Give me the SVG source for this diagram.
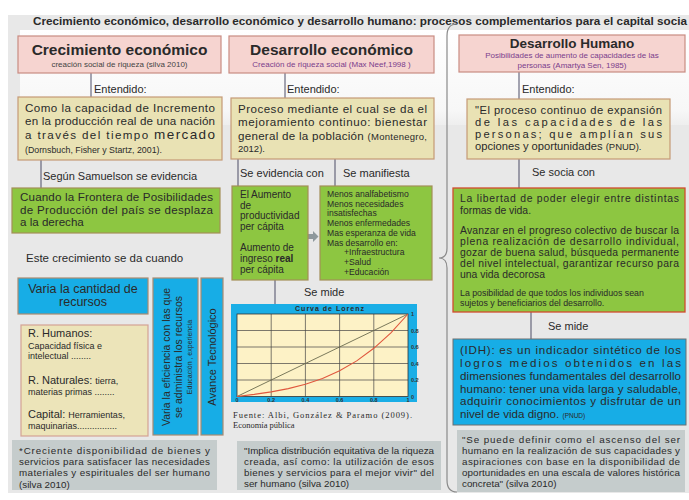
<svg xmlns="http://www.w3.org/2000/svg" width="689" height="500" viewBox="0 0 689 500">
<defs>
<linearGradient id="topg" x1="0" y1="0" x2="0" y2="1"><stop offset="0" stop-color="#ffffff"/><stop offset="0.85" stop-color="#f7f7f7"/><stop offset="1" stop-color="#eeeeee"/></linearGradient>
</defs>
<style>
text{font-family:"Liberation Sans",Arial,sans-serif;fill:#2a2a2a}
.pink{fill:#f6d4d0;stroke:#c98c82;stroke-width:1.2}
.tan{fill:#e9e2b4;stroke:#c59a76;stroke-width:1.2}
.green{fill:#8dc641;stroke:#a38f58;stroke-width:1.2}
.blue{fill:#17ade6;stroke:#a98a70;stroke-width:1.2}
.gray{fill:#c5cccc}
.conn{stroke:#4c4c66;stroke-width:1;fill:none}
.h{font-weight:bold;text-anchor:middle}
.sub{font-size:8px;text-anchor:middle;fill:#7a3d8c}
.lbl{font-size:11px}
.m{font-size:11.6px}
.g{font-size:9.8px}
.ax{font-size:5.5px;font-weight:bold;fill:#333}
.grid{stroke:#444;stroke-width:0.7}
</style>
<rect x="0" y="0" width="689" height="500" fill="#ffffff"/>
<rect x="8" y="15" width="681" height="478" fill="#e8e8e8"/>
<rect x="20" y="30" width="669" height="95" fill="url(#topg)"/>
<text x="33" y="24.5" font-size="11.7" font-weight="bold" fill="#1a1a1a" textLength="654" lengthAdjust="spacing">Crecimiento económico, desarrollo económico y desarrollo humano: procesos complementarios para el capital socia</text>

<g id="connectors">
<line class="conn" x1="91" y1="73" x2="91" y2="97"/>
<text class="lbl" x="94" y="93">Entendido:</text>
<line class="conn" x1="285" y1="73" x2="285" y2="98"/>
<text class="lbl" x="287" y="93">Entendido:</text>
<line class="conn" x1="519" y1="72" x2="519" y2="99"/>
<text class="lbl" x="522" y="93">Entendido:</text>
<line class="conn" x1="41" y1="160" x2="41" y2="188"/>
<text class="lbl" x="43" y="180">Según Samuelson se evidencia</text>
<line class="conn" x1="238" y1="159" x2="238" y2="186"/>
<text class="lbl" x="240" y="177">Se evidencia con</text>
<line class="conn" x1="335" y1="159" x2="335" y2="186"/>
<text class="lbl" x="343" y="177">Se manifiesta</text>
<line class="conn" x1="275" y1="280" x2="275" y2="304"/>
<text class="lbl" x="304" y="295.5">Se mide</text>
<line class="conn" x1="519" y1="159" x2="519" y2="188"/>
<text class="lbl" x="532" y="176">Se socia con</text>
<line class="conn" x1="531" y1="312" x2="531" y2="339"/>
<text class="lbl" x="548" y="330">Se mide</text>
<polygon points="308,234 313,234 313,231 318.5,236.5 313,242 313,239 308,239" fill="#8e989c"/>
<path d="M457,24 Q447,24 447,36 L447,248 Q447,258 439,258 Q447,258 447,268 L447,480 Q447,492 457,492" fill="none" stroke="#8a8a8a" stroke-width="1.2"/>
</g>

<text x="26" y="262" font-size="11.5">Este crecimiento se da cuando</text>

<g id="crecimiento-economico">
<rect class="pink" x="18" y="36" width="203" height="37"/>
<text class="h" x="119.5" y="55" font-size="15.5">Crecimiento económico</text>
<text class="sub" x="119.5" y="67" style="fill:#444">creación social de riqueza (silva 2010)</text>
</g>

<g id="entendido-crecimiento">
<rect class="tan" x="18" y="97" width="204" height="63"/>
<text class="m" x="25" y="112" textLength="190" lengthAdjust="spacing">Como la capacidad de Incremento</text>
<text class="m" x="25" y="125" textLength="190" lengthAdjust="spacing">en la producción real de una nación</text>
<text class="m" x="25" y="139" textLength="190" lengthAdjust="spacing">a través del tiempo <tspan font-size="13.5">mercado</tspan></text>
<text x="25" y="153" font-size="8.8">(Dornsbuch, Fisher y Startz, 2001).</text>
</g>

<g id="samuelson">
<rect class="green" x="12" y="188" width="208" height="45"/>
<text x="20" y="201" font-size="11.6" textLength="193" lengthAdjust="spacing">Cuando la Frontera de Posibilidades</text>
<text x="20" y="213.5" font-size="11.6" textLength="193" lengthAdjust="spacing">de Producción del país se desplaza</text>
<text x="20" y="226" font-size="11.6">a la derecha</text>
</g>

<g id="cantidad-recursos">
<rect class="blue" x="18" y="278" width="130" height="36"/>
<text x="83" y="293" font-size="12.5" text-anchor="middle">Varia la cantidad de</text>
<text x="83" y="306" font-size="12.5" text-anchor="middle">recursos</text>
</g>

<g id="tipos-recursos">
<rect x="21" y="325" width="127" height="111" fill="#ece4b9" stroke="#d4a294" stroke-width="1.2"/>
<text x="28" y="336.5" font-size="11">R. Humanos:</text>
<text x="28" y="348.5" font-size="9">Capacidad física e</text>
<text x="28" y="358.5" font-size="9">intelectual ........</text>
<text x="28" y="384" font-size="11">R. Naturales: <tspan font-size="9">tierra,</tspan></text>
<text x="28" y="395" font-size="9">materias primas ........</text>
<text x="28" y="417.5" font-size="11">Capital: <tspan font-size="9">Herramientas,</tspan></text>
<text x="28" y="429" font-size="9">maquinarias................</text>
</g>

<g id="eficiencia">
<rect class="blue" x="153" y="278" width="45" height="157"/>
<text transform="translate(170,357) rotate(-90)" text-anchor="middle" font-size="10.5">Varia la eficiencia con las que</text>
<text transform="translate(182,357) rotate(-90)" text-anchor="middle" font-size="10.5">se administra  los recursos</text>
<text transform="translate(192,357) rotate(-90)" text-anchor="middle" font-size="7">Educación , experiencia</text>
</g>

<g id="avance-tecnologico">
<rect class="blue" x="201" y="278" width="22" height="157"/>
<text transform="translate(216,357) rotate(-90)" text-anchor="middle" font-size="11">Avance Tecnológico</text>
</g>

<g id="nota-crecimiento">
<rect class="gray" x="12" y="440" width="205" height="50"/>
<text class="g" x="19" y="454" textLength="191" lengthAdjust="spacing">*Creciente disponibilidad de bienes y</text>
<text class="g" x="19" y="465" textLength="191" lengthAdjust="spacing">servicios para satisfacer las necesidades</text>
<text class="g" x="19" y="476" textLength="191" lengthAdjust="spacing">materiales y espirituales del ser humano</text>
<text class="g" x="19" y="487.5">(silva 2010)</text>
</g>

<g id="desarrollo-economico">
<rect class="pink" x="229" y="36" width="205" height="37"/>
<text class="h" x="331.5" y="55" font-size="15.5">Desarrollo económico</text>
<text class="sub" x="331.5" y="67" font-size="8.2">Creación de riqueza social (Max Neef,1998 )</text>
</g>

<g id="entendido-desarrollo">
<rect class="tan" x="231" y="98" width="203" height="61"/>
<text class="m" x="238" y="113" textLength="189" lengthAdjust="spacing">Proceso mediante el cual se da el</text>
<text class="m" x="238" y="126" textLength="189" lengthAdjust="spacing">mejoramiento continuo: bienestar</text>
<text class="m" x="238" y="140" textLength="189" lengthAdjust="spacing">general de la población <tspan font-size="9.5">(Montenegro,</tspan></text>
<text x="238" y="152" font-size="9.5">2012).</text>
</g>

<g id="evidencia">
<rect class="green" x="232" y="186" width="76" height="94"/>
<text x="240" y="198" font-size="10">El Aumento</text>
<text x="240" y="208.5" font-size="10">de</text>
<text x="240" y="219" font-size="10">productividad</text>
<text x="240" y="230" font-size="10">per cápita</text>
<text x="240" y="251" font-size="10">Aumento de</text>
<text x="240" y="262" font-size="10">ingreso <tspan font-weight="bold">real</tspan></text>
<text x="240" y="273" font-size="10">per cápita</text>
</g>

<g id="manifiesta">
<rect class="green" x="320" y="186" width="112" height="94"/>
<text x="327" y="196.5" font-size="8.6">Menos analfabetismo</text>
<text x="327" y="206.5" font-size="8.6">Menos necesidades</text>
<text x="327" y="216" font-size="8.6">insatisfechas</text>
<text x="327" y="225.5" font-size="8.6">Menos enfermedades</text>
<text x="327" y="235.5" font-size="8.6">Mas esperanza de vida</text>
<text x="327" y="245.5" font-size="8.6">Mas desarrollo en:</text>
<text x="344" y="255" font-size="8.6">+Infraestructura</text>
<text x="344" y="265" font-size="8.6">+Salud</text>
<text x="344" y="275" font-size="8.6">+Educación</text>
</g>

<g id="curva-lorenz">
<rect x="231" y="304" width="186" height="98" fill="#1aaee6"/>
<text x="330" y="310.5" font-size="7" font-weight="bold" fill="#3a3a5a" text-anchor="middle" letter-spacing="1">Curva de Lorenz</text>
<rect x="237" y="314" width="171" height="82.5" fill="#fdf2c6"/>
<g class="grid">
<line x1="271.2" y1="314" x2="271.2" y2="396.5"/>
<line x1="305.4" y1="314" x2="305.4" y2="396.5"/>
<line x1="339.6" y1="314" x2="339.6" y2="396.5"/>
<line x1="373.8" y1="314" x2="373.8" y2="396.5"/>
<line x1="237" y1="330.5" x2="408" y2="330.5"/>
<line x1="237" y1="347" x2="408" y2="347"/>
<line x1="237" y1="363.5" x2="408" y2="363.5"/>
<line x1="237" y1="380" x2="408" y2="380"/>
</g>
<rect x="237" y="314" width="171" height="82.5" fill="none" stroke="#333" stroke-width="0.8"/>
<line x1="237" y1="396.5" x2="408" y2="314" stroke="#6b6b4f" stroke-width="0.9"/>
<polyline points="237,396.5 254.1,394.4 271.2,391.9 288.3,388.6 305.4,384.3 322.5,378.4 339.6,370.8 356.7,360.9 373.8,348.3 390.9,332.8 408,314" fill="none" stroke="#e0573e" stroke-width="1.1"/>
<text class="ax" x="411" y="316">1</text>
<text class="ax" x="411" y="332.5">0.8</text>
<text class="ax" x="411" y="349">0.6</text>
<text class="ax" x="411" y="365.5">0.4</text>
<text class="ax" x="411" y="382">0.2</text>
<text class="ax" x="411" y="398.5">0</text>
<text class="ax" x="237" y="401.5" text-anchor="middle">0</text>
<text class="ax" x="271.2" y="401.5" text-anchor="middle">0.2</text>
<text class="ax" x="305.4" y="401.5" text-anchor="middle">0.4</text>
<text class="ax" x="339.6" y="401.5" text-anchor="middle">0.6</text>
<text class="ax" x="373.8" y="401.5" text-anchor="middle">0.8</text>
<text class="ax" x="408" y="401.5" text-anchor="middle">1</text>
<text x="233" y="418" font-size="8.5" style="font-family:'Liberation Serif','Times New Roman',serif" textLength="179" lengthAdjust="spacing">Fuente: Albi, González &amp; Paramo (2009).</text>
<text x="233" y="428" font-size="8.5" style="font-family:'Liberation Serif','Times New Roman',serif">Economía pública</text>
</g>

<g id="nota-desarrollo">
<rect class="gray" x="237" y="441" width="204" height="49"/>
<text class="g" x="244" y="454" textLength="190" lengthAdjust="spacing">"Implica distribución equitativa de la riqueza</text>
<text class="g" x="244" y="465" textLength="190" lengthAdjust="spacing">creada, así como:  la utilización de esos</text>
<text class="g" x="244" y="475.5" textLength="190" lengthAdjust="spacing">bienes y servicios para el mejor vivir" del</text>
<text class="g" x="244" y="487">ser humano (silva 2010)</text>
</g>

<g id="desarrollo-humano">
<rect class="pink" x="459" y="35" width="226" height="37"/>
<text class="h" x="572" y="48" font-size="13.5">Desarrollo Humano</text>
<text class="sub" x="572" y="58" font-size="8.3">Posibilidades de aumento de  capacidades de las</text>
<text class="sub" x="572" y="68" font-size="8.3">personas (Amartya Sen, 1985)</text>
</g>

<g id="entendido-humano">
<rect class="tan" x="467" y="99" width="203" height="60"/>
<text x="475" y="114" font-size="11.2" textLength="187" lengthAdjust="spacing">"El proceso continuo de expansión</text>
<text x="475" y="126" font-size="11.2" textLength="187" lengthAdjust="spacing">de las capacidades de las</text>
<text x="475" y="138" font-size="11.2" textLength="187" lengthAdjust="spacing">personas; que amplían sus</text>
<text x="475" y="150" font-size="11.2">opciones y oportunidades <tspan font-size="9.5">(PNUD).</tspan></text>
</g>

<g id="socia-con">
<rect x="453" y="188" width="232" height="124" fill="#8dc641" stroke="#d24c2e" stroke-width="1.3"/>
<text x="460" y="202" font-size="10.4" textLength="219" lengthAdjust="spacing">La libertad de poder elegir entre distintas</text>
<text x="460" y="214" font-size="10.4">formas de vida.</text>
<text x="460" y="234" font-size="10.4" textLength="219" lengthAdjust="spacing">Avanzar en el progreso colectivo de buscar la</text>
<text x="460" y="245" font-size="10.4" textLength="219" lengthAdjust="spacing">plena realización de desarrollo individual,</text>
<text x="460" y="256" font-size="10.4" textLength="219" lengthAdjust="spacing">gozar de buena salud, búsqueda permanente</text>
<text x="460" y="267" font-size="10.4" textLength="219" lengthAdjust="spacing">del nivel intelectual, garantizar recurso para</text>
<text x="460" y="278" font-size="10.4">una vida decorosa</text>
<text x="460" y="295.5" font-size="8.8">La posibilidad de que todos los individuos sean</text>
<text x="460" y="305.5" font-size="8.8">sujetos y beneficiarios del desarrollo.</text>
</g>

<g id="idh">
<rect x="453" y="339" width="233" height="86" fill="#17ade6" stroke="#6f6f6f" stroke-width="1"/>
<text x="460" y="354" font-size="11.6" textLength="221" lengthAdjust="spacing">(IDH): es un indicador sintético de los</text>
<text x="460" y="367" font-size="11.6" textLength="221" lengthAdjust="spacing">logros medios obtenidos en las</text>
<text x="460" y="379.5" font-size="11.6" textLength="221" lengthAdjust="spacing">dimensiones fundamentales del desarrollo</text>
<text x="460" y="392.5" font-size="11.6" textLength="221" lengthAdjust="spacing">humano: tener una vida larga y saludable,</text>
<text x="460" y="405" font-size="11.6" textLength="221" lengthAdjust="spacing">adquirir conocimientos y disfrutar de un</text>
<text x="460" y="418" font-size="11.6">nivel de vida digno. <tspan font-size="6.5">(PNUD)</tspan></text>
</g>

<g id="nota-humano">
<rect class="gray" x="457" y="430" width="228" height="62"/>
<text class="g" x="462" y="443" textLength="218" lengthAdjust="spacing">"Se puede definir como el ascenso del ser</text>
<text class="g" x="462" y="453.5" textLength="218" lengthAdjust="spacing">humano en la realización de sus capacidades y</text>
<text class="g" x="462" y="464.5" textLength="218" lengthAdjust="spacing">aspiraciones con base en la disponibilidad de</text>
<text class="g" x="462" y="476" textLength="218" lengthAdjust="spacing">oportunidades en una escala de valores histórica</text>
<text class="g" x="462" y="487">concreta" (silva 2010)</text>
</g>
</svg>
